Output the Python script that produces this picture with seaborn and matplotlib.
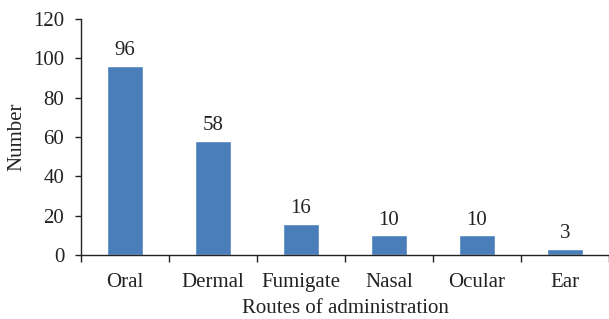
import matplotlib
matplotlib.use("Agg")
import matplotlib.pyplot as plt
import seaborn as sns
import pandas as pd
import numpy as np

routes = ['Oral', 'Dermal', 'Fumigate', 'Nasal', 'Ocular', 'Ear']
counts = [96, 58, 16, 10, 10, 3]

sns.set_style('ticks')
plt.rcParams['font.family'] = ['Liberation Serif', 'DejaVu Serif']

df = pd.DataFrame({'route': routes, 'count': counts})

fig = plt.figure(figsize=(6.09, 3.19), dpi=100)
ax = fig.add_axes([0.133, 0.2006, 0.867, 0.7398])

sns.barplot(data=df, x='route', y='count', color='#4a7ebb', saturation=1,
            width=0.41, ax=ax)

# подписи значений над столбиками
for i, v in enumerate(counts):
    ax.text(i, v + 5.5, str(v), ha='center', va='baseline', fontsize=15, color='#222222')

ax.set_xlim(-0.5, 5.5)
ax.set_ylim(0, 120)
ax.set_yticks(np.arange(0, 121, 20))
ax.set_xticks(np.arange(-0.5, 6, 1), minor=True)
ax.tick_params(axis='x', which='major', length=0, pad=13, labelsize=15, colors='#222222')
ax.tick_params(axis='x', which='minor', length=5, width=1, color='#222222')
ax.tick_params(axis='y', length=4, width=1, pad=8, labelsize=15, colors='#222222')

ax.set_xlabel('Routes of administration', fontsize=15, color='#222222', labelpad=5)
ax.set_ylabel('Number', fontsize=15, color='#222222', labelpad=5)

for s in ['top', 'right']:
    ax.spines[s].set_visible(False)
for s in ['left', 'bottom']:
    ax.spines[s].set_color('#222222')
    ax.spines[s].set_linewidth(1)

fig.savefig('out.png', dpi=100)
